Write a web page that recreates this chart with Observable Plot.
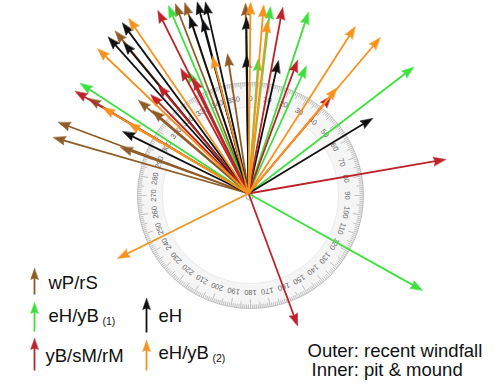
<!DOCTYPE html>
<html><head><meta charset="utf-8">
<script src="https://cdn.jsdelivr.net/npm/d3@7"></script>
<script src="https://cdn.jsdelivr.net/npm/@observablehq/plot@0.6"></script>
<style>
body{margin:0;background:#fff;}
#chart svg{display:block;}
</style></head><body><div id="chart"></div>
<script>
// Compass bearings (degrees clockwise from north) and arrow lengths per group
const seriesNames = ["wP/rS", "eH/yB (1)", "eH", "yB/sM/rM", "eH/yB (2)"];
const seriesColors = ["#8f5b27", "#3ee03e", "#111111", "#bd2329", "#f6931e"];

const brownAngles  = [286.0, 290.5, 289.8, 300.7, 310.2, 310.8, 320.6, 338.9, 341.5, 351.4, 359.1];
const brownLengths = [203, 203, 136, 186, 144, 127, 210, 203, 201, 141, 190];

const greenAngles  = [303.2, 336.9, 333.6, 4.2, 6.7, 18.3, 24.4, 52.6, 119.1];
const greenLengths = [201, 204, 137, 135, 188, 191, 140, 208, 199];

const blackAngles  = [296.2, 318.1, 323.5, 320.4, 345.0, 347.3, 341.6, 345.2, 359.3, 359.2, 12.7, 58.8];
const blackLengths = [140, 210, 212, 196, 198, 196, 187, 180, 176, 138, 136, 145];

const redAngles    = [300.5, 333.6, 315.3, 320.2, 331.5, 334.4, 10.4, 20.2, 40.3, 80.2, 159.6];
const redLengths   = [201, 204, 139, 141, 142, 128, 189, 142, 128, 200, 141];

const orangeAngles  = [313.8, 325.6, 300.5, 300.3, 345.3, 0.6, 4.6, 6.3, 32.6, 40.2, 40.0, 243.6];
const orangeLengths = [209, 212, 169, 139, 142, 191, 189, 174, 198, 204, 138, 146];

// protractor labels every 10 degrees
const protractorLabels = d3.range(0, 360, 10);
const protractorTicks = d3.range(0, 360, 1);

const legendNotes = ["Outer: recent windfall", "Inner: pit & mound"];

const groups = [
  {angles: brownAngles, lengths: brownLengths},
  {angles: greenAngles, lengths: greenLengths},
  {angles: blackAngles, lengths: blackLengths},
  {angles: redAngles, lengths: redLengths},
  {angles: orangeAngles, lengths: orangeLengths}
].map((g, k) => ({...g, name: seriesNames[k], color: seriesColors[k]}));

const rad = a => a * Math.PI / 180;
const PX = 2, PY = -2; // protractor centre offset
const R = 113;
const font = "'Liberation Sans', Arial, Helvetica, sans-serif";

const head = {
  draw(ctx, l, r) {
    ctx.moveTo(0, -l);
    ctx.lineTo(-r, 0);
    ctx.lineTo(0, -1.5);
    ctx.lineTo(r, 0);
    ctx.closePath();
  }
};

const marks = [];
// protractor ring
marks.push(Plot.dot([0], {x: () => PX, y: () => PY, r: 100.5, stroke: "#f5f5f5", strokeWidth: 25, fill: "none"}));
marks.push(Plot.dot([0], {x: () => PX, y: () => PY, r: R, stroke: "#bbbbbb", strokeWidth: 0.8, fill: "none"}));
marks.push(Plot.dot([0], {x: () => PX, y: () => PY, r: 88, stroke: "#e0e0e0", strokeWidth: 0.6, fill: "none"}));
const tickLen = a => a % 10 === 0 ? 9 : a % 5 === 0 ? 6.5 : 4;
marks.push(Plot.link(protractorTicks, {
  x1: a => PX + R * Math.sin(rad(a)), y1: a => PY + R * Math.cos(rad(a)),
  x2: a => PX + (R - tickLen(a)) * Math.sin(rad(a)), y2: a => PY + (R - tickLen(a)) * Math.cos(rad(a)),
  stroke: "#9a9a9a", strokeWidth: 0.6
}));
marks.push(Plot.text(protractorLabels, {
  x: a => PX + 97 * Math.sin(rad(a)), y: a => PY + 97 * Math.cos(rad(a)),
  text: a => String(a), rotate: a => a, fontSize: 7.5, fill: "#666", fontFamily: font
}));
marks.push(Plot.dot([0], {x: () => PX - 1, y: () => PY - 1, r: 3.5, stroke: "#999", strokeWidth: 0.8, fill: "none"}));

// arrows
for (const g of groups) {
  const rows = g.angles.map((a, i) => ({angle: a, len: g.lengths[i]}));
  marks.push(Plot.link(rows, {
    x1: () => 0, y1: () => 0,
    x2: d => (d.len - 6) * Math.sin(rad(d.angle)),
    y2: d => (d.len - 6) * Math.cos(rad(d.angle)),
    stroke: g.color, strokeWidth: 1.8
  }));
  marks.push(Plot.vector(rows, {
    x: d => d.len * Math.sin(rad(d.angle)),
    y: d => d.len * Math.cos(rad(d.angle)),
    rotate: d => d.angle, length: 12, r: 4.3, anchor: "end",
    shape: head, fill: g.color, stroke: g.color, strokeWidth: 0.5
  }));
}

// legend (pixel layout converted to chart units)
const px = x => x - 248, py = y => 193 - y;
const legendItems = [
  {k: 0, ax: 34, tail: 294, tip: 268, tx: 48, ty: 288},
  {k: 1, ax: 34, tail: 331, tip: 302, tx: 48, ty: 321, sub: "(1)", sx: 102, sy: 324},
  {k: 3, ax: 34, tail: 370, tip: 338, tx: 45, ty: 361},
  {k: 2, ax: 146, tail: 332, tip: 298, tx: 158, ty: 321},
  {k: 4, ax: 146, tail: 370, tip: 340, tx: 158, ty: 358, sub: "(2)", sx: 212, sy: 361}
];
for (const it of legendItems) {
  const c = seriesColors[it.k];
  marks.push(Plot.link([it], {x1: d => px(d.ax), y1: d => py(d.tail), x2: d => px(d.ax), y2: d => py(d.tip + 5), stroke: c, strokeWidth: 1.8}));
  marks.push(Plot.vector([it], {x: d => px(d.ax), y: d => py(d.tip), rotate: 0, length: 11, r: 3.8, anchor: "end", shape: head, fill: c, stroke: c, strokeWidth: 0.5}));
  marks.push(Plot.text([it], {x: d => px(d.tx), y: d => py(d.ty), text: d => seriesNames[d.k].replace(/ \(\d\)$/, ""), textAnchor: "start", lineAnchor: "bottom", fontSize: 18.5, fill: "#111", fontFamily: font}));
  if (it.sub) marks.push(Plot.text([it], {x: d => px(d.sx), y: d => py(d.sy), text: d => d.sub, textAnchor: "start", lineAnchor: "bottom", fontSize: 10.5, fill: "#111", fontFamily: font}));
}
marks.push(Plot.text(legendNotes, {
  x: (d, i) => px([307, 311][i]), y: (d, i) => py([356, 375][i]),
  text: d => d, textAnchor: "start", lineAnchor: "bottom", fontSize: 18.5, fill: "#111", fontFamily: font
}));

const chart = Plot.plot({
  width: 500, height: 386,
  margin: 0,
  x: {domain: [-248, 252], axis: null},
  y: {domain: [-193, 193], axis: null},
  style: {background: "#fff", overflow: "visible"},
  marks
});
document.getElementById("chart").appendChild(chart);
</script></body></html>
